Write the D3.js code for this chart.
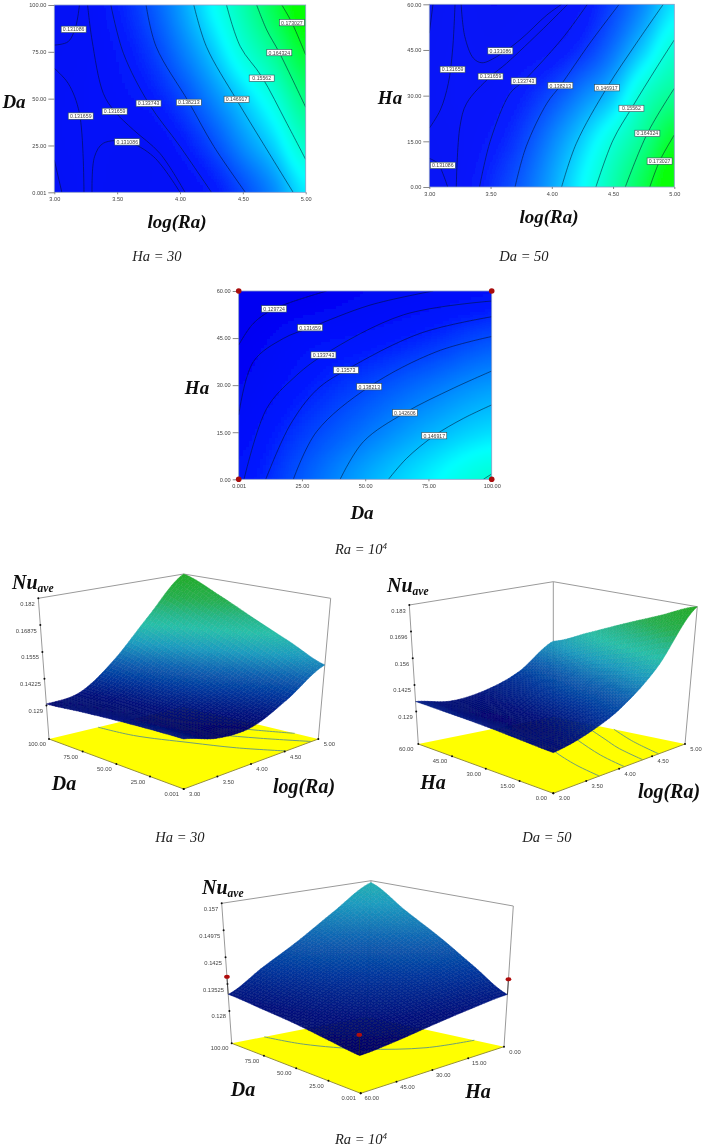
<!DOCTYPE html>
<html>
<head>
<meta charset="utf-8">
<script src="https://cdnjs.cloudflare.com/ajax/libs/d3/7.8.5/d3.min.js"></script>
<style>
body {margin: 0; background: #fff;}
text {font-family: "Liberation Sans", Arial, sans-serif; fill: #444;}
.name {font-family: "Liberation Serif", serif; font-style: italic; font-weight: bold; fill: #111;}
.caption {font-family: "Liberation Serif", serif; font-style: italic; fill: #222; font-size: 14.5px;}
</style>
</head>
<body>
<script>
'use strict';

/* axis categories */
const logRaTicks = [3, 3.5, 4, 4.5, 5];
const logRaLabels = ['3.00', '3.50', '4.00', '4.50', '5.00'];
const daTicks = [0.001, 25, 50, 75, 100];
const daLabels = ['0.001', '25.00', '50.00', '75.00', '100.00'];
const haTicks = [0, 15, 30, 45, 60];
const haLabels = ['0.00', '15.00', '30.00', '45.00', '60.00'];

/* read field values, rows run from the top of the plot down */
const fieldRaCols = [3, 3.25, 3.5, 3.75, 4, 4.25, 4.5, 4.75, 5];
const fieldDaRows = [100, 75, 50, 25, 0.001];
const fieldHaRows = [60, 45, 30, 15, 0];
const fieldDaCols = [0.001, 25, 50, 75, 100];

const fieldRaDa = [
    [.1305, .1315, .1345, .1386, .1443, .1518, .1603, .1703, .1820],
    [.1308, .1316, .1333, .1365, .1415, .1475, .1556, .1635, .1735],
    [.1312, .1318, .1325, .1340, .1375, .1425, .1483, .1553, .1650],
    [.1312, .1316, .1310, .1312, .1338, .1378, .1432, .1488, .1575],
    [.1305, .1315, .1306, .1309, .1315, .1337, .1380, .1430, .1505]
];
const fieldRaHa = [
    [.1305, .1312, .1305, .1308, .1313, .1333, .1375, .1430, .1500],
    [.1308, .1316, .1311, .1320, .1331, .1360, .1410, .1483, .1565],
    [.1312, .1319, .1320, .1345, .1380, .1425, .1475, .1575, .1635],
    [.1308, .1316, .1337, .1372, .1425, .1485, .1560, .1640, .1745],
    [.1305, .1320, .1355, .1395, .1450, .1520, .1605, .1705, .1825]
];
const fieldDaHa = [
    [.1280, .1287, .1305, .1317, .1328],
    [.1292, .1322, .1335, .1357, .1385],
    [.1305, .1343, .1378, .1412, .1442],
    [.1322, .1370, .1415, .1460, .1495],
    [.1335, .1395, .1455, .1510, .1565]
];

/* contour lines, as [x, y] pairs in data units */
const linesRaDa = [
    [[3, 78.6], [3.11, 80.4], [3.17, 88.4], [3.2, 100]],
    [[3, 66.2], [3.11, 58.2], [3.2, 42.2], [3.236, 0]],
    [[3, 17.3], [3.06, 0]],
    [[3.265, 100], [3.3, 81.3], [3.39, 52.8], [3.48, 43.2], [3.63, 33.3], [3.84, 20.8], [4.04, 0]],
    [[3.3, 0], [3.32, 19], [3.39, 26.2], [3.58, 26.9], [3.79, 19], [4, 0]],
    [[3.45, 100], [3.55, 74.2], [3.75, 47.6], [4, 24.5], [4.25, 0]],
    [[3.73, 100], [3.81, 77.8], [4.07, 48.1], [4.27, 24.4], [4.52, 0]],
    [[4.11, 100], [4.21, 77.8], [4.45, 49.4], [4.66, 26.2], [4.9, 0]],
    [[4.37, 100], [4.48, 77.8], [4.65, 61.8], [4.85, 36.8], [5, 17.5]],
    [[4.61, 100], [4.69, 86.7], [4.79, 74.6], [5, 45.4]],
    [[4.81, 100], [4.89, 90.6], [5, 73.3]]
];
const linesRaHa = [
    [[3.03, 60], [3, 50.5]],
    [[3.21, 60], [3.19, 45], [3.155, 34], [3.09, 25.3], [3, 19.3]],
    [[3.26, 60], [3.29, 49.4], [3.36, 42.3], [3.43, 40.8], [3.55, 42.8], [3.74, 48.3], [3.96, 56.5], [4.08, 60]],
    [[3.22, 0], [3.25, 19.8], [3.305, 27.5], [3.5, 36.3], [3.63, 40.6], [3.93, 52], [4.13, 60]],
    [[3.41, 0], [3.5, 15.4], [3.66, 30.8], [3.77, 34.8], [4.09, 49], [4.29, 60]],
    [[3.7, 0], [3.79, 13.2], [3.96, 27.5], [4.07, 33.3], [4.31, 47.2], [4.55, 60]],
    [[4.08, 0], [4.2, 14.3], [4.45, 32.6], [4.69, 47.2], [4.91, 60]],
    [[4.36, 0], [4.5, 15.4], [4.65, 25.8], [4.86, 39.5], [5, 48.3]],
    [[4.6, 0], [4.78, 17.6], [5, 32.4]],
    [[4.8, 0], [4.88, 8.5], [5, 17.1]],
    [[3, 9.4], [3.07, 7.8], [3.11, 4.5], [3.15, 0]]
];
const linesDaHa = [
    [[0, 42.8], [5.8, 49.7], [14, 54.3], [34.8, 60]],
    [[0, 20.5], [5.8, 37.5], [17.7, 44.9], [28.2, 48.3], [51.9, 55.5], [76.9, 60]],
    [[2.1, 0], [11.1, 22.6], [21.6, 32.2], [33.5, 39.6], [65.1, 52.4], [100, 56.8]],
    [[10.7, 0], [20.3, 17.3], [30.8, 28.5], [42.4, 34.8], [71.7, 46.5], [100, 51.8]],
    [[21.6, 0], [30.8, 15.2], [51.6, 29.5], [78.3, 40.7], [100, 45.5]],
    [[40.1, 0], [49.3, 12], [65.7, 21.2], [84.8, 29], [100, 34.5]],
    [[59.2, 0], [66.4, 6.7], [77.3, 13.9], [88.8, 19.4], [100, 23.7]],
    [[96.7, 0], [100, 1.7]]
];

/* contour level tags: text, then where each one sits in data units */
const tagsRaDa = ['0.131086', '0.131659', '0.131659', '0.133743', '0.138213', '0.146917', '0.15562', '0.164324', '0.173027', '0.131086'];
const tagsRaDaAt = [[3.154, 87], [3.21, 40.7], [3.48, 43.2], [3.75, 47.5], [4.07, 48], [4.45, 49.6], [4.65, 60.9], [4.79, 74.6], [4.89, 90.6], [3.58, 26.9]];
const tagsRaHa = ['0.131086', '0.131659', '0.131659', '0.133743', '0.138213', '0.146917', '0.15562', '0.164324', '0.173027', '0.131086'];
const tagsRaHaAt = [[3.58, 44.7], [3.19, 38.6], [3.5, 36.3], [3.77, 34.8], [4.07, 33.3], [4.45, 32.6], [4.65, 25.8], [4.78, 17.6], [4.88, 8.5], [3.11, 7.1]];
const tagsDaHa = ['0.129724', '0.131659', '0.133743', '0.13573', '0.138213', '0.142606', '0.146917'];
const tagsDaHaAt = [[14, 54.3], [28.2, 48.3], [33.5, 39.6], [42.4, 34.8], [51.6, 29.5], [65.7, 21.2], [77.3, 13.9]];

/* corner design points */
const pointsDaHa = [[0.001, 0], [100, 0], [0.001, 60], [100, 60]];

/* surface heights read from the 3D views, rows run from back (high Da/Ha) to front */
const surfRaCols = [3, 3.5, 4, 4.5, 5];
const surfDaRows = [100, 75, 50, 25, 0.001];
const surfHaRows = [60, 45, 30, 15, 0];
const surfHaCols = [60, 45, 30, 15, 0];
const surfRaDa = [
    [.1298, .1320, .1444, .1631, .1820],
    [.1313, .1305, .1400, .1550, .1739],
    [.1324, .1302, .1366, .1483, .1650],
    [.1331, .1296, .1325, .1420, .1569],
    [.1334, .1292, .1294, .1374, .1491]
];
const surfRaHa = [
    [.1341, .1310, .1330, .1394, .1520],
    [.1334, .1298, .1345, .1430, .1597],
    [.1326, .1300, .1365, .1480, .1677],
    [.1314, .1315, .1385, .1520, .1753],
    [.1303, .1339, .1415, .1567, .1830]
];
const surfDaHa = [
    [.1325, .1380, .1435, .1500, .1565],
    [.1315, .1355, .1405, .1450, .1505],
    [.1305, .1335, .1370, .1405, .1450],
    [.1292, .1315, .1340, .1365, .1390],
    [.1280, .1290, .1305, .1320, .1333]
];

const zTicksA = [.129, .14225, .1555, .16875, .182];
const zLabelsA = ['0.129', '0.14225', '0.1555', '0.16875', '0.182'];
const zTicksB = [.129, .1425, .156, .1696, .183];
const zLabelsB = ['0.129', '0.1425', '0.156', '0.1696', '0.183'];
const zTicksC = [.128, .13525, .1425, .14975, .157];
const zLabelsC = ['0.128', '0.13525', '0.1425', '0.14975', '0.157'];

const pointsC = [[100, 60, .1372], [0.001, 0, .1374], [0.001, 60, .1328]];

/* colour ramps */
const heat = d3.scaleLinear()
    .domain([.129, .1345, .152, .178])
    .range(['#0000f2', '#0018ff', '#00ffff', '#00ff00'])
    .clamp(true);
const surfColor = d3.scaleLinear()
    .domain([.128, .132, .138, .145, .152, .160, .165, .172, .182])
    .range(['#00006a', '#00127e', '#00369e', '#1066b4', '#1c9cc0', '#28c0aa', '#27b88c', '#26b050', '#22ac28'])
    .clamp(true);

const svg = d3.select('body').append('svg')
    .attr('width', 707)
    .attr('height', 1148)
    .style('display', 'block');

const defs = svg.append('defs');
defs.append('filter').attr('id', 'smooth')
    .append('feGaussianBlur').attr('stdDeviation', 2.2);
defs.append('filter').attr('id', 'soft')
    .append('feGaussianBlur').attr('stdDeviation', 0.3);

const root = svg.append('g').attr('filter', 'url(#soft)');

function catmull(a, b, c, d, t) {
    return 0.5 * (2 * b + (c - a) * t + (2 * a - 5 * b + 4 * c - d) * t * t + (3 * b - a - 3 * c + d) * t * t * t);
}

// smooth read-off of a value table at fractional row/col, for painting only
function lookup(table, r, c) {
    const rows = table.length - 1, cols = table[0].length - 1;
    r = Math.max(0, Math.min(rows, r));
    c = Math.max(0, Math.min(cols, c));
    const r0 = Math.min(Math.floor(r), rows - 1), c0 = Math.min(Math.floor(c), cols - 1);
    const at = (i, j) => table[Math.max(0, Math.min(rows, i))][Math.max(0, Math.min(cols, j))];
    const row = i => catmull(at(i, c0 - 1), at(i, c0), at(i, c0 + 1), at(i, c0 + 2), c - c0);
    return catmull(row(r0 - 1), row(r0), row(r0 + 1), row(r0 + 2), r - r0);
}

function contourPanel(p) {
    const x = d3.scaleLinear().domain(p.xDomain).range([p.left, p.right]);
    const y = d3.scaleLinear().domain(p.yDomain).range([p.bottom, p.top]);
    const colOf = d3.scaleLinear().domain(p.cols).range(d3.range(p.cols.length));
    const rowOf = d3.scaleLinear().domain(p.rows).range(d3.range(p.rows.length));
    const id = 'clip' + Math.round(p.left);
    defs.append('clipPath').attr('id', id)
        .append('rect')
        .attr('x', p.left).attr('y', p.top)
        .attr('width', p.right - p.left).attr('height', p.bottom - p.top);

    const step = 3;
    const cells = [];
    for (let py = p.top - 6; py < p.bottom + 6; py += step)
        for (let px = p.left - 6; px < p.right + 6; px += step)
            cells.push({px, py, v: lookup(p.field, rowOf(y.invert(py + step / 2)), colOf(x.invert(px + step / 2)))});

    const clip = root.append('g').attr('clip-path', `url(#${id})`);
    clip.append('g').attr('filter', 'url(#smooth)')
        .selectAll('rect').data(cells).enter().append('rect')
        .attr('x', d => d.px).attr('y', d => d.py)
        .attr('width', step + 0.5).attr('height', step + 0.5)
        .attr('fill', d => heat(d.v));

    const line = d3.line().x(d => x(d[0])).y(d => y(d[1])).curve(d3.curveCatmullRom);
    clip.selectAll('path').data(p.lines).enter().append('path')
        .attr('d', line)
        .attr('fill', 'none')
        .attr('stroke', '#04102c')
        .attr('stroke-opacity', 0.6)
        .attr('stroke-width', 0.9);

    root.append('rect')
        .attr('x', p.left).attr('y', p.top)
        .attr('width', p.right - p.left).attr('height', p.bottom - p.top)
        .attr('fill', 'none').attr('stroke', '#8a9cc8').attr('stroke-width', 0.8);

    const axisX = d3.axisBottom(x).tickValues(p.xTicks).tickFormat((d, i) => p.xLabels[i]).tickSize(2).tickPadding(3);
    const axisY = d3.axisLeft(y).tickValues(p.yTicks).tickFormat((d, i) => p.yLabels[i]).tickSize(6).tickPadding(2);
    [[axisX, `translate(0,${p.bottom})`], [axisY, `translate(${p.left},0)`]].forEach(([axis, tr]) => {
        const g = root.append('g').attr('transform', tr).call(axis);
        g.select('.domain').remove();
        g.selectAll('line').attr('stroke', '#555').attr('stroke-width', 0.7);
        g.selectAll('text').style('font-family', '"Liberation Sans", sans-serif').style('font-size', '5.6px').attr('fill', '#444');
    });

    const tag = root.selectAll(null).data(p.tags).enter().append('g')
        .attr('transform', (d, i) => `translate(${x(p.tagsAt[i][0])},${y(p.tagsAt[i][1])})`);
    tag.append('rect')
        .attr('x', -12.5).attr('y', -3.2).attr('width', 25).attr('height', 6.4)
        .attr('fill', '#fff').attr('stroke', '#2c4a52').attr('stroke-width', 0.6);
    tag.append('text')
        .attr('text-anchor', 'middle').attr('y', 2)
        .style('font-size', '5.2px').text(d => d);

    if (p.points) {
        root.selectAll(null).data(p.points).enter().append('circle')
            .attr('cx', d => x(d[0])).attr('cy', d => y(d[1]))
            .attr('r', 2.8).attr('fill', '#a80d0d');
    }
}

function mix(a, b, t) {return [a[0] + (b[0] - a[0]) * t, a[1] + (b[1] - a[1]) * t];}

function surfacePanel(p) {
    const u = d3.scaleLinear().domain(p.uDomain).range([0, 1]);
    const v = d3.scaleLinear().domain(p.vDomain).range([0, 1]);
    const w = d3.scaleLinear().domain(p.zDomain).range([0, 1]);
    const corner = (q, a, b) => mix(mix(q.front, q.right, a), mix(q.left, q.back, a), b);
    const project = (a, b, c) => mix(corner(p.floor, a, b), corner(p.cage, a, b), c);

    root.append('polygon')
        .attr('points', [p.floor.left, p.floor.front, p.floor.right, p.floor.back].join(' '))
        .attr('fill', '#ffff00');
    const floorLine = d3.line().x(d => project(u(d[0]), v(d[1]), 0)[0]).y(d => project(u(d[0]), v(d[1]), 0)[1]).curve(d3.curveCatmullRom);
    root.selectAll(null).data(p.lines).enter().append('path')
        .attr('d', floorLine).attr('fill', 'none')
        .attr('stroke', '#6f9f78').attr('stroke-width', 1);

    // cage behind the surface
    const cage = [
        [p.cage.left, p.floor.left], [p.cage.right, p.floor.right], [p.cage.back, p.floor.back],
        [p.cage.left, p.cage.back], [p.cage.back, p.cage.right]
    ];
    root.selectAll(null).data(cage).enter().append('line')
        .attr('x1', d => d[0][0]).attr('y1', d => d[0][1])
        .attr('x2', d => d[1][0]).attr('y2', d => d[1][1])
        .attr('stroke', '#9a9a9a').attr('stroke-width', 1);
    root.append('polyline')
        .attr('points', [p.floor.left, p.floor.front, p.floor.right].join(' '))
        .attr('fill', 'none').attr('stroke', '#96903a').attr('stroke-width', 1);

    const zTick = root.selectAll(null).data(p.zTicks).enter().append('g')
        .attr('transform', d => `translate(${project(0, 1, w(d))})`);
    zTick.append('circle').attr('r', 1).attr('fill', '#111');
    zTick.append('text')
        .attr('text-anchor', 'end').attr('x', -3.5).attr('y', 7.5)
        .style('font-size', '5.8px')
        .text((d, i) => p.zLabels[i]);

    const edgeTicks = (vals, labels, pos, dx) => {
        const g = root.selectAll(null).data(vals).enter().append('g')
            .attr('transform', d => `translate(${pos(d)})`);
        g.append('circle').attr('r', 1).attr('fill', '#111');
        g.append('text')
            .attr('text-anchor', 'middle').attr('x', dx).attr('y', 7)
            .style('font-size', '5.8px')
            .text((d, i) => labels[i]);
    };
    edgeTicks(p.vTicks, p.vLabels, d => project(0, v(d), 0), -12);
    edgeTicks(p.uTicks, p.uLabels, d => project(u(d), 0, 0), 11);

    const N = 46;
    const quads = [];
    const rowOf = d3.scaleLinear().domain(p.rows).range(d3.range(p.rows.length));
    const colOf = d3.scaleLinear().domain(p.cols).range(d3.range(p.cols.length));
    const inU = d3.scaleLinear().domain([0, N]).range(p.uDomain);
    const inV = d3.scaleLinear().domain([0, N]).range(p.vDomain);
    const height = (i, j) => lookup(p.surface, rowOf(inV(j)), colOf(inU(i)));
    for (let j = N - 1; j >= 0; j--) {
        for (let i = 0; i < N; i++) {
            const c = [[i, j], [i + 1, j], [i + 1, j + 1], [i, j + 1]];
            const pts = c.map(q => project(q[0] / N, q[1] / N, w(height(q[0], q[1]))));
            const z = d3.mean(c, q => height(q[0], q[1]));
            quads.push({pts, z, odd: (i + j) % 2});
        }
    }
    root.append('g').selectAll('polygon').data(quads).enter().append('polygon')
        .attr('points', d => d.pts.join(' '))
        .attr('fill', d => surfColor(d.z))
        .attr('stroke', d => d3.color(surfColor(d.z)).darker(d.odd ? 0.25 : 0.05))
        .attr('stroke-width', 0.45);

    if (p.points) {
        p.points.forEach(d => {
            const base = project(u(d[1]), v(d[0]), w(lookup(p.surface, rowOf(d[0]), colOf(d[1]))));
            const top = project(u(d[1]), v(d[0]), w(d[2]));
            root.append('line')
                .attr('x1', base[0]).attr('y1', base[1]).attr('x2', top[0]).attr('y2', top[1])
                .attr('stroke', '#222').attr('stroke-width', 0.7);
            root.append('ellipse')
                .attr('cx', top[0]).attr('cy', top[1]).attr('rx', 2.8).attr('ry', 2)
                .attr('fill', '#b01010');
        });
    }
}

function nameLabel(str, x, y, size) {
    root.append('text').attr('class', 'name')
        .attr('x', x).attr('y', y).attr('text-anchor', 'middle')
        .style('font-size', (size || 19) + 'px').text(str);
}

function nuLabel(x, y) {
    const t = root.append('text').attr('class', 'name').attr('x', x).attr('y', y).style('font-size', '20px');
    t.append('tspan').text('Nu');
    t.append('tspan').attr('dy', 3).style('font-size', '11.5px').text('ave');
}

function caption(str, x, y, sup) {
    const t = root.append('text').attr('class', 'caption')
        .attr('x', x).attr('y', y).attr('text-anchor', 'middle').text(str);
    if (sup) t.append('tspan').attr('dy', -5).style('font-size', '9px').text(sup);
}

contourPanel({
    left: 54.3, right: 305.7, top: 5, bottom: 192.3,
    xDomain: [3, 5], yDomain: [0.001, 100],
    xTicks: logRaTicks, xLabels: logRaLabels, yTicks: daTicks, yLabels: daLabels,
    cols: fieldRaCols, rows: fieldDaRows, field: fieldRaDa,
    lines: linesRaDa, tags: tagsRaDa, tagsAt: tagsRaDaAt
});
contourPanel({
    left: 429.3, right: 674.3, top: 4.3, bottom: 187,
    xDomain: [3, 5], yDomain: [0, 60],
    xTicks: logRaTicks, xLabels: logRaLabels, yTicks: haTicks, yLabels: haLabels,
    cols: fieldRaCols, rows: fieldHaRows, field: fieldRaHa,
    lines: linesRaHa, tags: tagsRaHa, tagsAt: tagsRaHaAt
});
contourPanel({
    left: 238.7, right: 491.7, top: 291, bottom: 479.3,
    xDomain: [0, 100], yDomain: [0, 60],
    xTicks: daTicks, xLabels: daLabels, yTicks: haTicks, yLabels: haLabels,
    cols: fieldDaCols, rows: fieldHaRows, field: fieldDaHa,
    lines: linesDaHa, tags: tagsDaHa, tagsAt: tagsDaHaAt, points: pointsDaHa
});

// the floor only shows the levels named here, the rest stay off it
surfacePanel({
    floor: {front: [183.7, 789], right: [318.3, 739], left: [49, 739], back: [183.7, 706.7]},
    cage: {front: [183.7, 622.7], right: [330.7, 598.3], left: [38.3, 598.3], back: [183.7, 574]},
    uDomain: [3, 5], vDomain: [0.001, 100], zDomain: [.1125, .182],
    uTicks: logRaTicks, uLabels: logRaLabels, vTicks: daTicks, vLabels: daLabels,
    zTicks: zTicksA, zLabels: zLabelsA,
    cols: surfRaCols, rows: surfDaRows, surface: surfRaDa, lines: linesRaDa.slice(6, 9)
});
surfacePanel({
    floor: {front: [553.3, 793.3], right: [685, 744], left: [418.3, 744], back: [553.3, 716.7]},
    cage: {front: [553.3, 631.7], right: [697.3, 606.7], left: [409.3, 605], back: [553.3, 581.7]},
    uDomain: [3, 5], vDomain: [0, 60], zDomain: [.1126, .183],
    uTicks: logRaTicks, uLabels: logRaLabels, vTicks: haTicks, vLabels: haLabels,
    zTicks: zTicksB, zLabels: zLabelsB,
    cols: surfRaCols, rows: surfHaRows, surface: surfRaHa, lines: linesRaHa.slice(5, 9)
});
surfacePanel({
    floor: {front: [360.7, 1093.3], right: [504, 1046.7], left: [231.7, 1043.3], back: [366.7, 1016.7]},
    cage: {front: [356.7, 930], right: [513.3, 906], left: [221.7, 903.3], back: [371, 880.7]},
    uDomain: [60, 0], vDomain: [0.001, 100], zDomain: [.1193, .157],
    uTicks: haTicks.slice().reverse(), uLabels: haLabels.slice().reverse(), vTicks: daTicks, vLabels: daLabels,
    zTicks: zTicksC, zLabels: zLabelsC,
    cols: surfHaCols, rows: surfDaRows, surface: surfDaHa,
    lines: linesDaHa.slice(4, 5).map(l => l.map(d => [d[1], d[0]])), points: pointsC
});

nameLabel('Da', 14, 108);
nameLabel('log(Ra)', 177, 228);
caption('Ha = 30', 157, 261);
nameLabel('Ha', 390, 104);
nameLabel('log(Ra)', 549, 223);
caption('Da = 50', 524, 261);
nameLabel('Ha', 197, 394);
nameLabel('Da', 362, 519);
caption('Ra = 10', 361, 554, '4');

nuLabel(12, 589);
nameLabel('Da', 64, 790, 20);
nameLabel('log(Ra)', 304, 793, 20);
caption('Ha = 30', 180, 842);
nuLabel(387, 592);
nameLabel('Ha', 433, 789, 20);
nameLabel('log(Ra)', 669, 798, 20);
caption('Da = 50', 547, 842);
nuLabel(202, 894);
nameLabel('Da', 243, 1096, 20);
nameLabel('Ha', 478, 1098, 20);
caption('Ra = 10', 361, 1144, '4');
</script>
</body>
</html>
